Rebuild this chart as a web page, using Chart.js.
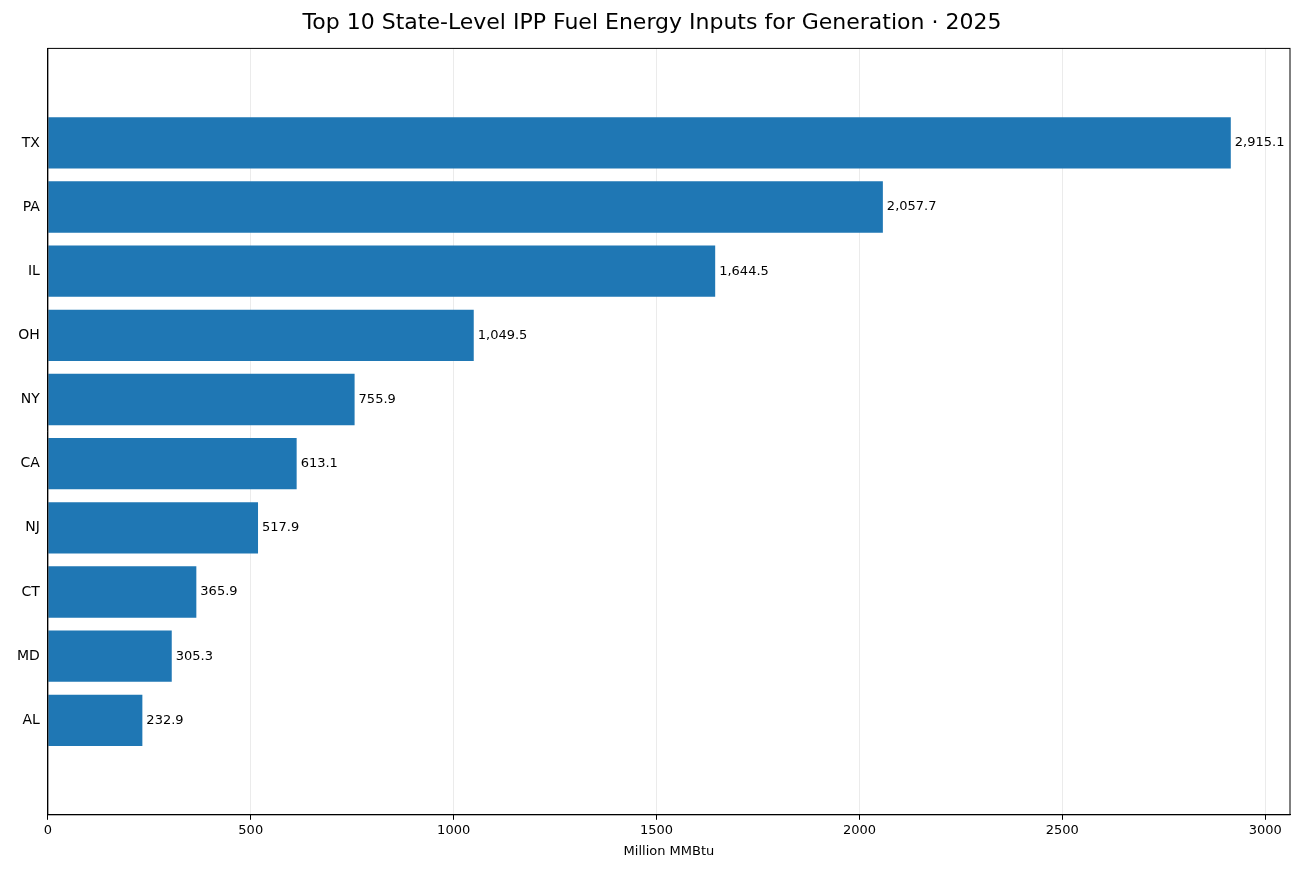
<!DOCTYPE html>
<html lang="en">
<head>
  <meta charset="UTF-8">
  <title>Top 10 State-Level IPP Fuel Energy Inputs</title>
  <style>
    * { box-sizing: border-box; margin: 0; padding: 0; }
    body { background: #fff; font-family: 'DejaVu Sans', sans-serif; }
    .wrap { width: 1300px; height: 869px; position: relative; }
  </style>
</head>
<body>
  <div class="wrap"><canvas id="chart"></canvas></div>
  <script src="https://cdn.jsdelivr.net/npm/chart.js@4"></script>
  <script>
    const states = ['TX', 'PA', 'IL', 'OH', 'NY', 'CA', 'NJ', 'CT', 'MD', 'AL'];
    const values = [2915.1, 2057.7, 1644.5, 1049.5, 755.9, 613.1, 517.9, 365.9, 305.3, 232.9];
    const xTicks = [0, 500, 1000, 1500, 2000, 2500, 3000];

    // value labels at the end of each bar
    const barLabels = {
      id: 'barLabels',
      afterDatasetsDraw(chart) {
        const ctx = chart.ctx;
        ctx.save();
        ctx.font = '13px "DejaVu Sans", sans-serif';
        ctx.fillStyle = '#000';
        ctx.textBaseline = 'middle';
        chart.getDatasetMeta(0).data.forEach((bar, i) => {
          ctx.fillText(values[i].toLocaleString('en-US', { minimumFractionDigits: 1, maximumFractionDigits: 1 }), bar.x + 4, bar.y);
        });
        ctx.restore();
      }
    };

    new Chart(document.getElementById('chart'), {
      type: 'bar',
      data: {
        datasets: [{
          data: values.map((v, i) => ({ x: v, y: i })),
          backgroundColor: '#1f77b4', barPercentage: 0.8, categoryPercentage: 1
        }]
      },
      options: {
        indexAxis: 'y',
        responsive: true,
        maintainAspectRatio: false,
        animation: false,
        layout: { padding: { left: 14, right: 10, top: 4, bottom: 6 } },
        scales: {
          x: {
            type: 'linear',
            min: 0, max: 3061,
            afterBuildTicks: axis => { axis.ticks = xTicks.map(v => ({ value: v })); },
            grid: { color: 'rgba(0,0,0,0.08)', drawTicks: true, tickColor: '#000', tickLength: 5 },
            border: { color: '#000' },
            ticks: { color: '#000', font: { size: 13, family: 'DejaVu Sans' }, callback: v => String(v) },
            title: { display: true, text: 'Million MMBtu', color: '#000', font: { size: 13, family: 'DejaVu Sans' }, padding: { top: 2 } }
          },
          y: {
            type: 'linear',
            reverse: true,
            min: -0.875, max: 9.875,
            afterBuildTicks: axis => { axis.ticks = states.map((_, i) => ({ value: i })); },
            grid: { display: false, drawTicks: true, tickColor: '#000', tickLength: 5 },
            border: { color: '#000' },
            ticks: { color: '#000', font: { size: 14, family: 'DejaVu Sans' }, callback: v => states[v] ?? '' }
          }
        },
        plugins: {
          legend: { display: false },
          tooltip: { enabled: false },
          title: {
            display: true,
            text: 'Top 10 State-Level IPP Fuel Energy Inputs for Generation · 2025',
            color: '#000',
            font: { size: 22, weight: 'normal', family: 'DejaVu Sans' },
            padding: { top: 6, bottom: 12 }
          }
        }
      },
      plugins: [barLabels, {
        id: 'frame',
        afterDraw(chart) {
          const a = chart.chartArea, ctx = chart.ctx;
          ctx.save(); ctx.strokeStyle = '#000'; ctx.lineWidth = 1;
          ctx.strokeRect(a.left, a.top, a.right - a.left, a.bottom - a.top);
          ctx.restore();
        }
      }]
    });
  </script>
</body>
</html>
